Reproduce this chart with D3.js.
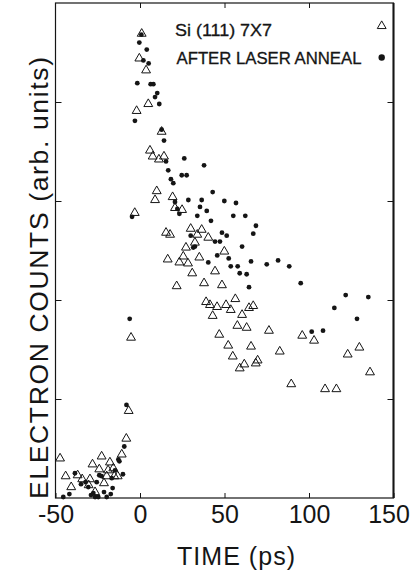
<!DOCTYPE html>
<html>
<head>
<meta charset="utf-8">
<script src="https://cdn.jsdelivr.net/npm/d3@7"></script>
<style>
  body { margin: 0; background: #fff; }
  svg { display: block; font-family: "Liberation Sans", Arial, Helvetica, sans-serif; }
</style>
</head>
<body>
<svg id="chart" width="420" height="575"></svg>
<script>
// time (ps), electron counts (arb. units)
const si7x7 = [
  [1.0, 4.69], [-0.4, 4.44], [3.6, 4.32], [4.9, 3.98], [-2.0, 3.91], [12.8, 3.70],
  [5.9, 3.51], [7.5, 3.45], [11.2, 3.42], [14.2, 3.45], [9.9, 3.10], [19.3, 3.04],
  [8.9, 3.01], [20.7, 2.93], [24.9, 2.91], [-3.1, 2.88], [15.4, 2.68], [17.8, 2.66],
  [30.0, 2.72], [36.5, 2.71], [33.9, 2.66], [40.4, 2.63], [32.5, 2.58], [27.2, 2.53],
  [49.9, 2.49], [25.6, 2.44], [16.4, 2.41], [23.3, 2.38], [28.4, 2.37], [35.1, 2.43],
  [44.4, 2.29], [30.9, 2.27], [37.9, 2.17], [48.5, 2.15], [21.7, 2.14], [56.4, 2.01],
  [39.1, 1.98], [41.4, 1.95], [45.6, 1.93], [50.9, 1.95], [53.7, 1.90], [64.5, 1.92],
  [67.0, 1.94], [43.0, 1.84], [60.4, 1.85], [57.6, 1.74], [63.1, 1.72], [76.3, 1.69],
  [96.0, 1.64], [-5.3, 1.62], [46.9, 1.65], [103.0, 1.59], [52.2, 1.54], [65.7, 1.53],
  [82.7, 1.48], [122.9, 1.45], [129.8, 1.52], [54.9, 1.43], [61.7, 1.35], [68.5, 1.36],
  [69.6, 1.39], [59.0, 1.31], [136.1, 1.27], [89.5, 1.15], [109.5, 1.10], [116.2, 1.10],
  [-6.7, 0.88], [-8.1, 0.60], [-10.8, 0.44], [-22.7, 0.42], [-47.3, 0.40], [-17.8, 0.36],
  [-28.1, 0.34], [-24.1, 0.29], [-18.9, 0.28], [-15.8, 0.30], [-36.9, 0.23], [-44.0, 0.22],
  [-19.7, 0.22], [-15.2, 0.22], [-13.2, 0.22], [-34.2, 0.19], [-29.6, 0.19], [-21.3, 0.15],
  [-30.4, 0.13], [-40.7, 0.11], [-26.6, 0.06]
]

const laserAnneal = [
  [0.8, 4.68], [-0.4, 4.60], [4.0, 4.53], [2.0, 4.42], [5.1, 4.39], [-1.6, 4.19],
  [6.3, 4.18], [7.9, 4.18], [10.2, 4.09], [8.9, 4.05], [11.4, 3.98], [-3.0, 3.81],
  [12.8, 3.72], [14.2, 3.61], [15.4, 3.40], [26.2, 3.43], [37.9, 3.36], [16.7, 3.31],
  [24.7, 3.26], [27.6, 3.26], [18.3, 3.22], [19.7, 3.18], [43.0, 3.09], [28.6, 3.01],
  [36.5, 3.01], [49.9, 3.00], [56.8, 2.98], [20.7, 2.99], [22.1, 2.92], [23.3, 2.87],
  [35.5, 2.94], [39.5, 2.90], [-4.7, 2.84], [33.9, 2.85], [55.2, 2.85], [62.3, 2.85],
  [42.0, 2.80], [68.6, 2.75], [48.5, 2.68], [51.3, 2.65], [67.0, 2.67], [30.0, 2.65],
  [44.4, 2.59], [47.3, 2.59], [31.5, 2.53], [32.5, 2.54], [60.4, 2.54], [45.7, 2.45],
  [52.5, 2.42], [40.4, 2.38], [65.7, 2.39], [75.0, 2.36], [81.7, 2.40], [88.3, 2.34],
  [53.7, 2.34], [57.8, 2.34], [59.0, 2.27], [63.1, 2.26], [64.5, 2.13], [95.1, 2.17],
  [121.7, 2.05], [135.1, 2.03], [115.0, 1.92], [-6.1, 1.81], [128.4, 1.81], [101.6, 1.68],
  [108.3, 1.69], [-8.0, 0.94], [-9.3, 0.52], [-12.8, 0.39], [-12.2, 0.37], [-14.8, 0.28],
  [-38.5, 0.25], [-10.1, 0.24], [-24.1, 0.23], [-22.7, 0.22], [-34.9, 0.14], [-32.2, 0.16],
  [-25.6, 0.16], [-16.7, 0.20], [-30.6, 0.11], [-16.2, 0.10], [-21.3, 0.06], [-41.8, 0.04],
  [-45.4, 0.01], [-29.0, 0.03], [-27.6, 0.05], [-26.6, 0.01], [-19.7, 0.01], [-24.7, 0.01],
  [-17.3, 0.04]
]

const xTicks = [-50, 0, 50, 100, 150]
const yTicks = [0, 1, 2, 3, 4, 5]
const legendLabels = ['Si (111) 7X7', 'AFTER LASER ANNEAL']

const ink = '#151515'
const plotLeft = 55.5
const plotRight = 393.5
const plotTop = 3
const plotBottom = 498

const svg = d3.select('#chart')

const x = d3.scaleLinear().domain([-50, 150]).range([plotLeft, plotRight])
const y = d3.scaleLinear().domain([0, 5]).range([plotBottom, plotTop])

// frame
svg.append('rect')
  .attr('x', plotLeft)
  .attr('y', plotTop)
  .attr('width', plotRight - plotLeft)
  .attr('height', plotBottom - plotTop)
  .attr('fill', 'none')
  .attr('stroke', ink)
  .attr('stroke-width', 1.2)

svg.append('line')
  .attr('x1', plotRight).attr('x2', plotRight)
  .attr('y1', plotTop).attr('y2', plotBottom)
  .attr('stroke', ink)
  .attr('stroke-width', 2)

const xAxis = svg.append('g')
  .attr('transform', `translate(0,${plotBottom})`)
  .call(d3.axisBottom(x).tickValues(xTicks).tickSizeInner(-5).tickSizeOuter(0).tickPadding(7)
    .tickFormat((d) => String(d)))

xAxis.select('.domain').remove()
xAxis.selectAll('line').attr('stroke', ink)
xAxis.selectAll('text')
  .attr('fill', ink)
  .style('font-size', '25px')
  .style('font-family', '"Liberation Sans", Arial, sans-serif')
// last label sits a little left of its tick in the original
xAxis.selectAll('.tick:last-of-type text').attr('dx', -5)

const xTop = svg.append('g')
  .attr('transform', `translate(0,${plotTop})`)
  .call(d3.axisTop(x).tickValues(xTicks.slice(1, -1)).tickSizeInner(-5).tickSizeOuter(0).tickFormat(''))
xTop.select('.domain').remove()
xTop.selectAll('line').attr('stroke', ink)

const yLeft = svg.append('g')
  .attr('transform', `translate(${plotLeft},0)`)
  .call(d3.axisLeft(y).tickValues(yTicks.slice(1, -1)).tickSizeInner(-6).tickSizeOuter(0).tickFormat(''))
yLeft.select('.domain').remove()
yLeft.selectAll('line').attr('stroke', ink)

const yRight = svg.append('g')
  .attr('transform', `translate(${plotRight},0)`)
  .call(d3.axisRight(y).tickValues(yTicks.slice(1, -1)).tickSizeInner(-6).tickSizeOuter(0).tickFormat(''))
yRight.select('.domain').remove()
yRight.selectAll('line').attr('stroke', ink)

// data marks
const triangle = d3.symbol().type(d3.symbolTriangle).size(34)

svg.append('g')
  .selectAll('path')
  .data(si7x7)
  .enter().append('path')
  .attr('d', triangle)
  .attr('transform', (d) => `translate(${x(d[0])},${y(d[1])})`)
  .attr('fill', 'none')
  .attr('stroke', ink)
  .attr('stroke-width', 1)

svg.append('g')
  .selectAll('circle')
  .data(laserAnneal)
  .enter().append('circle')
  .attr('cx', (d) => x(d[0]))
  .attr('cy', (d) => y(d[1]))
  .attr('r', 2.4)
  .attr('fill', ink)

// legend
svg.append('text')
  .attr('x', 175)
  .attr('y', 36)
  .attr('textLength', 97)
  .attr('lengthAdjust', 'spacingAndGlyphs')
  .attr('fill', ink)
  .attr('stroke', ink)
  .attr('stroke-width', 0.3)
  .style('font-size', '16px')
  .text(legendLabels[0])

svg.append('text')
  .attr('x', 176.5)
  .attr('y', 64)
  .attr('textLength', 185)
  .attr('lengthAdjust', 'spacingAndGlyphs')
  .attr('fill', ink)
  .attr('stroke', ink)
  .attr('stroke-width', 0.3)
  .style('font-size', '16px')
  .text(legendLabels[1])

svg.append('path')
  .attr('d', triangle)
  .attr('transform', 'translate(381.7,26)')
  .attr('fill', 'none')
  .attr('stroke', ink)

svg.append('circle')
  .attr('cx', 381.7)
  .attr('cy', 57.5)
  .attr('r', 3.2)
  .attr('fill', ink)

// axis titles
svg.append('text')
  .attr('x', 236)
  .attr('y', 565)
  .attr('text-anchor', 'middle')
  .attr('textLength', 118)
  .attr('fill', ink)
  .style('font-size', '25px')
  .text('TIME (ps)')

svg.append('text')
  .attr('transform', 'translate(48,278) rotate(-90)')
  .attr('text-anchor', 'middle')
  .attr('textLength', 442)
  .attr('fill', ink)
  .style('font-size', '26.5px')
  .text('ELECTRON COUNTS (arb. units)')
</script>
</body>
</html>
